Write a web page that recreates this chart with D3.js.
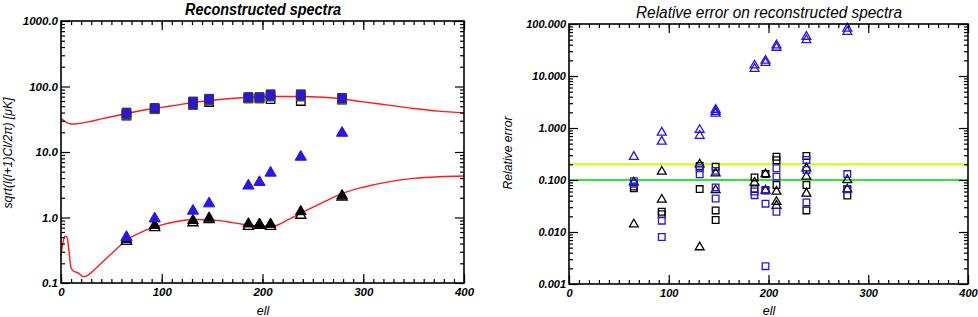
<!DOCTYPE html>
<html>
<head>
<meta charset="utf-8">
<script src="https://cdn.jsdelivr.net/npm/d3@7"></script>
<style>
body { margin: 0; background: #fff; }
text { font-family: "Liberation Sans", Arial, sans-serif; font-style: italic; }
</style>
</head>
<body>
<script>
/*multipole bins shared by both panels*/
var ells = [65, 93, 131, 147, 186, 197, 208, 238, 279];

/*left panel: reconstructed spectra*/
var spBlueSq = [40, 47, 59, 65, 69, 69, 76, 76, 67];
var spBlueSq2 = [37, 45, 52, 61, 66, 66, 70, 70, 64];
var spBlackSq = [36, 45, 53, 58, 66, 66, 64, 60, 63];
var spBlueTri = [0.50, 0.96, 1.26, 1.63, 3.05, 3.45, 4.8, 8.4, 19.5];
var spBlackTri = [0.46, 0.76, 0.90, 0.98, 0.80, 0.79, 0.79, 1.23, 2.15];
var spBlackTriOpen = [0.43, 0.70, 0.83, 0.93, 0.73, 0.76, 0.73, 1.08, 2.05];

/*theory curves*/
var curveEll = [0, 3, 6, 9, 12, 16, 22, 30, 40, 50, 65, 80, 100, 115, 130, 150, 165, 180, 200, 210, 225, 240, 260, 280, 300, 325, 350, 375, 400];
var curveTop = [32.5, 30, 28, 27, 26.8, 27, 27.8, 29.5, 32, 34.5, 38.7, 43, 48, 52, 56.5, 61.7, 65, 67.5, 69.6, 70, 70.5, 70.5, 68.5, 64.5, 58.3, 52, 46.2, 42, 39.6];
var lowEll = [0, 2, 4, 6, 8, 10, 13, 16, 19, 22, 26, 35, 50, 65, 80, 100, 115, 130, 150, 165, 180, 200, 212, 225, 240, 260, 280, 300, 325, 350, 375, 400];
var curveLow = [0.26, 0.42, 0.52, 0.50, 0.30, 0.17, 0.15, 0.145, 0.135, 0.125, 0.13, 0.17, 0.28, 0.45, 0.6, 0.77, 0.87, 0.93, 0.92, 0.86, 0.79, 0.74, 0.75, 0.92, 1.2, 1.7, 2.35, 2.9, 3.5, 3.95, 4.2, 4.3];

/*right panel: relative errors, several realisations per bin*/
var errBlueTri = [[0.28], [0.82, 0.55], [0.92, 0.71], [2.25, 2.05, 1.9], [16, 13.8], [19.8, 18], [39, 35], [57, 49], [82, 71]];
var errBlueSq = [[0.095, 0.085], [0.0165, 0.008], [0.168, 0.129], [0.15, 0.072, 0.044], [0.06, 0.051], [0.064, 0.035, 0.0022], [0.168, 0.116, 0.0245], [0.243, 0.156, 0.037], [0.13, 0.067]];
var errBlackSq = [[0.075, 0.069], [0.0245, 0.022], [0.186, 0.067], [0.18, 0.026, 0.017], [0.112, 0.067], [0.13, 0.063], [0.28, 0.24, 0.08], [0.29, 0.08, 0.026], [0.066, 0.05]];
var errBlackTri = [[0.09, 0.014], [0.145, 0.042], [0.2, 0.0051], [0.135, 0.064], [0.089], [0.13, 0.063], [0.06, 0.038, 0.032], [0.168, 0.116, 0.055], [0.1, 0.066]];
var errLevels = [0.2, 0.1];

var xTicks = [0, 100, 200, 300, 400];
var blue = "#2a14e6";

var svg = d3.select("body").append("svg")
	.attr("width", 978)
	.attr("height", 317);

/*flatten the per-bin lists into points*/
function flat(lists) {
	var out = [];
	lists.forEach(function (vals, i) {
		vals.forEach(function (v) { out.push({ell: ells[i], v: v}); });
	});
	return out;
}

function pts(vals) {
	return vals.map(function (v, i) { return {ell: ells[i], v: v}; });
}

/*draw frame with IDL-like inner ticks on all four sides*/
function frame(g, x, y, w, h, fmt, fontSize) {
	var dom = y.domain();
	var majors = [], minors = [];
	for (var d = dom[0]; d <= dom[1] * 1.0001; d *= 10) {
		majors.push(d);
		for (var k = 2; k < 10 && d < dom[1] * 0.999; k++) minors.push(d * k);
	}
	var xMinor = d3.range(0, 401, 10);

	g.append("g").call(d3.axisLeft(y).tickValues(majors).tickSize(-9).tickPadding(3).tickFormat(fmt))
		.attr("class", "ax");
	g.append("g").call(d3.axisLeft(y).tickValues(minors).tickSize(-4).tickFormat(""))
		.attr("class", "ax");
	g.append("g").attr("transform", `translate(${w},0)`)
		.call(d3.axisRight(y).tickValues(majors).tickSize(-9).tickFormat(""))
		.attr("class", "ax");
	g.append("g").attr("transform", `translate(${w},0)`)
		.call(d3.axisRight(y).tickValues(minors).tickSize(-4).tickFormat(""))
		.attr("class", "ax");
	g.append("g").attr("transform", `translate(0,${h})`)
		.call(d3.axisBottom(x).tickValues(xTicks).tickSize(-9).tickPadding(5).tickFormat(d3.format("d")))
		.attr("class", "ax");
	g.append("g").attr("transform", `translate(0,${h})`)
		.call(d3.axisBottom(x).tickValues(xMinor).tickSize(-4).tickFormat(""))
		.attr("class", "ax");
	g.append("g").call(d3.axisTop(x).tickValues(xTicks).tickSize(-9).tickFormat(""))
		.attr("class", "ax");
	g.append("g").call(d3.axisTop(x).tickValues(xMinor).tickSize(-4).tickFormat(""))
		.attr("class", "ax");

	g.selectAll(".ax .domain").remove();
	g.selectAll(".ax line").attr("stroke", "#000").attr("stroke-width", 1.2);
	g.selectAll(".ax text")
		.attr("font-size", fontSize)
		.attr("font-weight", "bold")
		.attr("font-style", "italic")
		.attr("font-family", "'Liberation Sans', Arial, sans-serif")
		.attr("fill", "#000");

	g.append("rect")
		.attr("width", w).attr("height", h)
		.attr("fill", "none").attr("stroke", "#000").attr("stroke-width", 1.6);
}

function marks(g, data, x, y, shape, size, fill, stroke, sw) {
	g.append("g").selectAll("path")
		.data(data)
		.enter()
		.append("path")
		.attr("transform", d => `translate(${x(d.ell)},${y(d.v)})`)
		.attr("d", d3.symbol().type(shape).size(size))
		.attr("fill", fill)
		.attr("stroke", stroke)
		.attr("stroke-width", sw);
}

/*============ left panel ============*/
var L = {left: 61, top: 21, w: 403, h: 262};
var gL = svg.append("g").attr("transform", `translate(${L.left},${L.top})`);
var xL = d3.scaleLinear().domain([0, 400]).range([0, L.w]);
var yL = d3.scaleLog().domain([0.1, 1000]).range([L.h, 0]);

var line = d3.line().x(d => xL(d[0])).y(d => yL(d[1])).curve(d3.curveMonotoneX);
gL.append("path").datum(curveEll.map((e, i) => [e, curveTop[i]]))
	.attr("d", line).attr("fill", "none").attr("stroke", "#ff1a1a").attr("stroke-width", 1.4);
gL.append("path").datum(lowEll.map((e, i) => [e, curveLow[i]]))
	.attr("d", line).attr("fill", "none").attr("stroke", "#ff1a1a").attr("stroke-width", 1.4);

marks(gL, pts(spBlackSq), xL, yL, d3.symbolSquare, 72, "none", "#000", 1.3);
marks(gL, pts(spBlueSq2), xL, yL, d3.symbolSquare, 78, blue, "#555", 1);
marks(gL, pts(spBlueSq), xL, yL, d3.symbolSquare, 78, blue, "#333", 1);
marks(gL, pts(spBlackTriOpen), xL, yL, d3.symbolTriangle, 45, "#fff", "#000", 1.3);
marks(gL, pts(spBlackTri), xL, yL, d3.symbolTriangle, 50, "#000", "#000", 1);
marks(gL, pts(spBlueTri), xL, yL, d3.symbolTriangle, 55, blue, blue, 1);

frame(gL, xL, yL, L.w, L.h, d3.format(".1f"), 11.5);

svg.append("text")
	.attr("x", 263).attr("y", 15)
	.attr("text-anchor", "middle")
	.attr("font-size", 16).attr("font-weight", "bold")
	.attr("textLength", 156).attr("lengthAdjust", "spacingAndGlyphs")
	.text("Reconstructed spectra");
svg.append("text")
	.attr("transform", "translate(12,153) rotate(-90)")
	.attr("text-anchor", "middle")
	.attr("font-size", 12.5)
	.attr("textLength", 111).attr("lengthAdjust", "spacingAndGlyphs")
	.text("sqrt(l(l+1)Cl/2\u03c0) [\u03bcK]");
svg.append("text")
	.attr("x", 263).attr("y", 315)
	.attr("text-anchor", "middle")
	.attr("font-size", 12.5)
	.text("ell");

/*============ right panel ============*/
var R = {left: 569, top: 24, w: 399, h: 260};
var gR = svg.append("g").attr("transform", `translate(${R.left},${R.top})`);
var xR = d3.scaleLinear().domain([0, 400]).range([0, R.w]);
var yR = d3.scaleLog().domain([0.001, 100]).range([R.h, 0]);

gR.selectAll(".lvl")
	.data(errLevels)
	.enter()
	.append("line")
	.attr("x1", 0).attr("x2", R.w)
	.attr("y1", d => yR(d)).attr("y2", d => yR(d))
	.attr("stroke", (d, i) => i == 0 ? "#ccff00" : "#33e633")
	.attr("stroke-width", 2);

marks(gR, flat(errBlackSq), xR, yR, d3.symbolSquare, 44, "none", "#000", 1.3);
marks(gR, flat(errBlackTri), xR, yR, d3.symbolTriangle, 34, "none", "#000", 1.3);
marks(gR, flat(errBlueSq), xR, yR, d3.symbolSquare, 44, "none", blue, 1.3);
marks(gR, flat(errBlueTri), xR, yR, d3.symbolTriangle, 34, "none", blue, 1.3);

frame(gR, xR, yR, R.w, R.h, d3.format(".3f"), 11);

svg.append("text")
	.attr("x", 769).attr("y", 18)
	.attr("text-anchor", "middle")
	.attr("font-size", 16)
	.attr("textLength", 266).attr("lengthAdjust", "spacingAndGlyphs")
	.text("Relative error on reconstructed spectra");
svg.append("text")
	.attr("transform", "translate(512,153) rotate(-90)")
	.attr("text-anchor", "middle")
	.attr("font-size", 12.5)
	.attr("textLength", 73).attr("lengthAdjust", "spacingAndGlyphs")
	.text("Relative error");
svg.append("text")
	.attr("x", 769).attr("y", 315)
	.attr("text-anchor", "middle")
	.attr("font-size", 12.5)
	.text("ell");
</script>
</body>
</html>
